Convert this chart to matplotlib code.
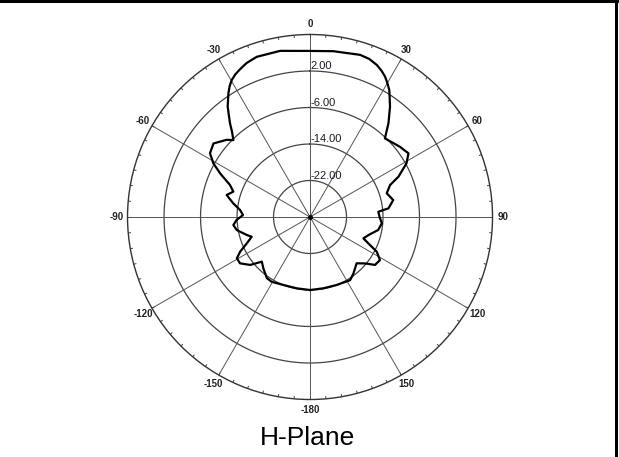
import matplotlib.pyplot as plt
import numpy as np
from matplotlib.patches import Rectangle

# H-Plane pattern, angle (deg, clockwise from top) and gain (dB)
angle_deg = [-180, -169.4, -158.6, -149.4, -144.8, -137.7, -132.8, -128.7,
             -123.5, -119.4, -116.4, -112.6, -108.7, -105.9, -100.1, -96.0,
             -92.3, -88.3, -84.3, -79.9, -75.2, -71.7, -68.2, -64.1, -61.0,
             -57.5, -52.7, -47.2, -44.9, -42.5, -40.5, -38.5, -36.7, -33.4,
             -31.5, -29.7, -27.6, -25.5, -22.4, -18.4, -10.2, 0, 8.0, 17.2,
             20.5, 23.7, 26.0, 28.1, 30.0, 32.0, 35.9, 39.9, 43.6,
             52.0, 57.1, 60.9, 65.5, 68.2, 72.8, 78.5, 83.7, 85.6, 90.5, 95.0,
             100.8, 107.2, 111.8, 114.3, 117.5, 121.6, 126.4, 130.1, 134.8,
             142.4, 147.6, 158.6, 169.4, 180]
gain_db = [-14.0, -14.1, -14.0, -13.5, -13.6, -14.8, -15.6, -13.2,
           -11.6, -11.6, -12.9, -15.0, -16.5, -15.6, -13.7, -13.1,
           -13.9, -15.3, -14.6, -12.9, -11.1, -12.3, -11.1, -8.1, -5.8,
           -4.0, -3.4, -5.1, -6.2, -4.7, -3.0, -1.4, 0.2, 2.5,
           3.7, 4.6, 5.3, 5.8, 6.5, 7.0, 7.0, 6.4, 6.7, 7.2,
           7.0, 6.4, 5.7, 4.9, 3.9, 2.8, -0.1, -3.2, -6.2,
           -5.0, -4.3, -5.8, -8.7, -11.1, -12.4, -11.4, -12.7, -15.0, -14.7, -14.2,
           -14.8, -16.6, -17.4, -16.0, -13.5, -12.0, -12.3, -14.2, -15.6,
           -14.4, -13.6, -14.0, -14.1, -14.0]

ring_vals = [-22, -14, -6, 2]
ring_labels = ["-22.00", "-14.00", "-6.00", "2.00"]
spoke_deg = list(range(-150, 181, 30))
spoke_labels = ["-150", "-120", "-90", "-60", "-30", "0", "30", "60", "90", "120", "150", "-180"]

r_min, r_max = -30, 10

fig = plt.figure(figsize=(6.19, 4.57), dpi=100)
ax = fig.add_axes([0.206, 0.1258, 0.5897, 0.7987], projection="polar")
ax.set_theta_zero_location("N")
ax.set_theta_direction(-1)
ax.set_ylim(r_min, r_max)
ax.set_xticks([])
ax.set_yticks([])
ax.grid(False)
ax.spines["polar"].set_color("#333333")
ax.spines["polar"].set_linewidth(1.0)

th_full = np.linspace(0, 2 * np.pi, 361)
for rv in ring_vals:
    ax.plot(th_full, np.full_like(th_full, rv), color="#444444", lw=0.9, zorder=1)

for d in spoke_deg:
    t = np.deg2rad(d)
    ax.plot([t, t], [r_min, r_max], color="#555555", lw=0.7, zorder=1)

# minor ticks on the outer circle, every 5 degrees
tick_t = np.deg2rad(np.arange(0, 360, 5))
ax.vlines(tick_t, r_max - 0.6, r_max, color="#444444", lw=0.7, zorder=1)

for d, lab in zip(spoke_deg, spoke_labels):
    ax.text(np.deg2rad(d), 12.3, lab, ha="center", va="center", fontsize=7,
            fontweight="bold", family="Liberation Sans", color="#222222",
            clip_on=False)

for rv, lab in zip(ring_vals, ring_labels):
    ax.text(0, rv + 1.0, lab, ha="left", va="center", fontsize=8,
            family="Liberation Sans", color="#1a1a2a", zorder=3)

ax.plot(np.deg2rad(angle_deg), gain_db, color="black", lw=1.6,
        solid_joinstyle="round", zorder=4)
ax.plot(0, r_min, "o", color="black", ms=2.5, zorder=5)

fig.text(0.497, 0.041, "H-Plane", ha="center", va="center", fontsize=19,
         family="Liberation Sans")

# frame lines at top and right edge
fig.add_artist(Rectangle((0, 1 - 3 / 457), 1, 3 / 457, transform=fig.transFigure,
                         color="black", lw=0))
fig.add_artist(Rectangle((615 / 619, 0), 3 / 619, 1, transform=fig.transFigure,
                         color="black", lw=0))

fig.savefig("out.png", dpi=100)
